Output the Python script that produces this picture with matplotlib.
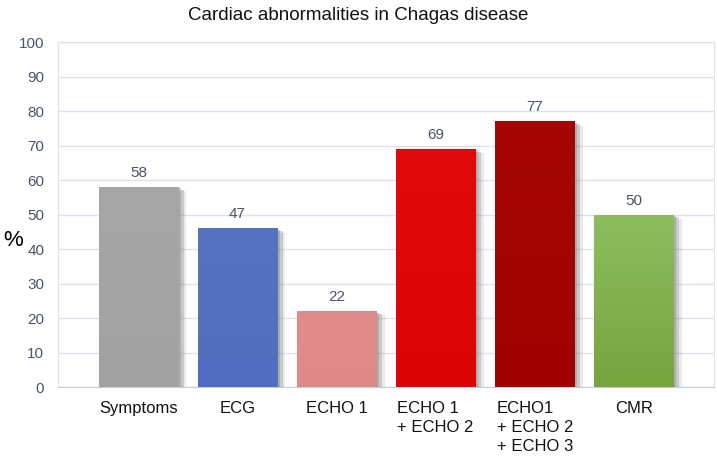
import numpy as np
import matplotlib
matplotlib.use("Agg")
import matplotlib.pyplot as plt
import matplotlib.patheffects as pe
from matplotlib.colors import LinearSegmentedColormap

plt.rcParams["font.family"] = ["Liberation Sans", "DejaVu Sans"]

categories = ["Symptoms", "ECG", "ECHO 1", "ECHO 1\n+ ECHO 2", "ECHO1\n+ ECHO 2\n+ ECHO 3", "CMR"]
heights = [58, 46, 22, 69, 77, 50]
value_labels = ["58", "47", "22", "69", "77", "50"]
# top / bottom colour of each bar (light vertical gradient)
top_colors = ["#a6a6a6", "#5673c2", "#e18c8c", "#e20a0a", "#a60606", "#8ebd5e"]
bottom_colors = ["#a2a2a2", "#516dbf", "#df8888", "#dc0404", "#a00202", "#76a53e"]
yticks = [0, 10, 20, 30, 40, 50, 60, 70, 80, 90, 100]

fig = plt.figure(figsize=(7.17, 4.57), dpi=100)
ax = fig.add_axes([0.081, 0.153, 0.915, 0.755])

x = np.arange(len(categories))
width = 0.8
shadow = [pe.SimplePatchShadow(offset=(2, -1), shadow_rgbFace="#555555", alpha=0.3),
          pe.SimplePatchShadow(offset=(4, -2), shadow_rgbFace="#777777", alpha=0.3),
          pe.SimplePatchShadow(offset=(6, -3), shadow_rgbFace="#999999", alpha=0.2),
          pe.Normal()]
bars = ax.bar(x, heights, width=width, color=bottom_colors, zorder=3)
grad = np.linspace(0, 1, 256).reshape(-1, 1)
for b, xi, h, c0, c1 in zip(bars, x, heights, top_colors, bottom_colors):
    b.set_path_effects(shadow)
    cmap = LinearSegmentedColormap.from_list("g", [c1, c0])
    im = ax.imshow(grad, cmap=cmap, aspect="auto", origin="lower",
                   extent=(xi - width / 2, xi + width / 2, 0, h), zorder=4)
    im.set_clip_path(b)

for xi, h, lab in zip(x, heights, value_labels):
    ax.annotate(lab, (xi, h), xytext=(0, 5), textcoords="offset points",
                ha="center", va="bottom", fontsize=11, color="#4a5468")

ax.set_xlim(-0.81, 5.81)
ax.set_ylim(0, 100)
ax.set_yticks(yticks)
ax.grid(axis="y", color="#dfe2ee", linewidth=1, zorder=0)
for s in ax.spines.values():
    s.set_color("#dfe2ee")
ax.spines["bottom"].set_color("#c8cbd8")

ax.set_xticks(x)
ax.set_xticklabels(categories, fontsize=12, color="#111111", va="top",
                   multialignment="left", linespacing=1.35)
ax.tick_params(axis="x", length=0, pad=10)
ax.tick_params(axis="y", length=0, pad=10, labelsize=11, labelcolor="#4a5468")

ax.set_ylabel("%", fontsize=16, rotation=0, va="center", ha="center")
ax.yaxis.set_label_coords(-0.068, 0.425)

fig.suptitle("Cardiac abnormalities in Chagas disease", fontsize=13.5, y=0.985, color="#111111")

fig.savefig("out.png", dpi=100)
